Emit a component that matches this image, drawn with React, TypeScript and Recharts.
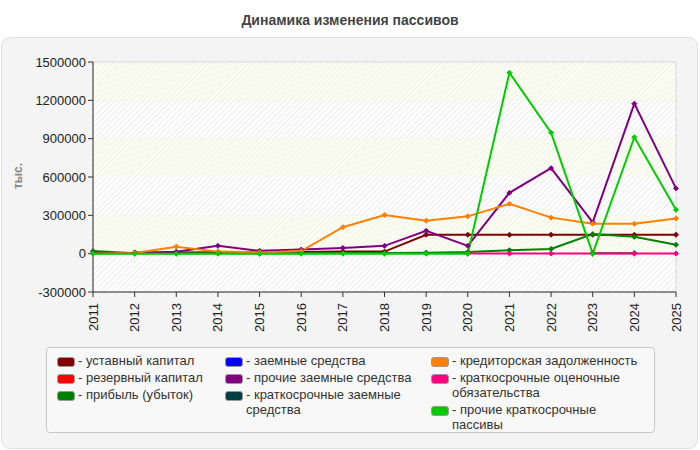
import { LineChart, Line, XAxis, YAxis, CartesianGrid, ReferenceArea } from "recharts";

const years = ["2011", "2012", "2013", "2014", "2015", "2016", "2017", "2018", "2019", "2020", "2021", "2022", "2023", "2024", "2025"];

// тыс. руб.
const ustavny = [null, 10000, 10000, 12000, 12000, 14000, 16000, 16000, 148000, 148000, 148000, 148000, 148000, 148000, 148000];
const rezervny = [null, null, null, null, null, null, null, null, null, null, null, null, null, null, null];
const pribyl = [20000, 3000, 3000, 3000, 3000, 3000, 5000, 5000, 8000, 13000, 27000, 37000, 153000, 132000, 69000];
const zaemnye = [null, null, null, null, null, null, null, null, null, null, null, null, null, null, null];
const prochieZaemnye = [5000, 5000, 15000, 61000, 22000, 32000, 45000, 61000, 179000, 61000, 476000, 669000, 245000, 1174000, 511000];
const kratkZaemnye = [null, null, null, null, null, null, null, null, null, null, null, null, 4000, 4000, null];
const kreditorskaya = [0, 5000, 55000, 16000, 10000, 20000, 207000, 303000, 258000, 292000, 390000, 282000, 234000, 234000, 276000];
const ocenochnye = [null, null, null, null, null, null, null, null, null, 1000, 1000, 1000, 1000, 1000, 1000];
const prochieKratk = [0, 0, 0, 0, 0, 0, 0, 0, 0, 0, 1416000, 947000, 0, 911000, 343000];

const yTicks = [-300000, 0, 300000, 600000, 900000, 1200000, 1500000];

const series = [
  { key: "ustavny", name: "уставный капитал", color: "#800000", values: ustavny },
  { key: "rezervny", name: "резервный капитал", color: "#ff0000", values: rezervny },
  { key: "pribyl", name: "прибыль (убыток)", color: "#008000", values: pribyl },
  { key: "zaemnye", name: "заемные средства", color: "#0000ff", values: zaemnye },
  { key: "prochieZaemnye", name: "прочие заемные средства", color: "#800080", values: prochieZaemnye },
  { key: "kratkZaemnye", name: "краткосрочные заемные средства", color: "#004040", values: kratkZaemnye },
  { key: "kreditorskaya", name: "кредиторская задолженность", color: "#ff8000", values: kreditorskaya },
  { key: "ocenochnye", name: "краткосрочные оценочные обязательства", color: "#ff0080", values: ocenochnye },
  { key: "prochieKratk", name: "прочие краткосрочные пассивы", color: "#00cc00", values: prochieKratk },
];

const data = years.map((year, i) => {
  const row: Record<string, string | number | null> = { year };
  series.forEach((s) => {
    row[s.key] = s.values[i];
  });
  return row;
});

const legendCols = [
  ["ustavny", "rezervny", "pribyl"],
  ["zaemnye", "prochieZaemnye", "kratkZaemnye"],
  ["kreditorskaya", "ocenochnye", "prochieKratk"],
];
const legendColX = [10, 178, 384];

const font = "'Liberation Sans', Arial, sans-serif";

const Diamond = (props: any) => {
  const { cx, cy, stroke, index, value } = props;
  if (cx == null || cy == null || value == null) return <g key={index} />;
  const r = 2.5;
  return (
    <path
      key={index}
      d={`M${cx},${cy - r}L${cx + r},${cy}L${cx},${cy + r}L${cx - r},${cy}Z`}
      fill={stroke}
      stroke={stroke}
      strokeWidth={1}
    />
  );
};

const YearTick = (props: any) => {
  const { x, y, payload } = props;
  return (
    <text
      x={x}
      y={y + 4}
      transform={`rotate(-90 ${x} ${y + 4})`}
      textAnchor="end"
      dominantBaseline="central"
      fontSize={13}
      fontFamily={font}
      fill="#222"
    >
      {payload.value}
    </text>
  );
};

const bands = [
  [-300000, 0, "url(#hatchGray)"],
  [0, 300000, "url(#hatchCream)"],
  [300000, 600000, "url(#hatchGray)"],
  [600000, 900000, "url(#hatchCream)"],
  [900000, 1200000, "url(#hatchGray)"],
  [1200000, 1500000, "url(#hatchCream)"],
] as const;

export default function App() {
  return (
    <div style={{ position: "relative", width: 700, height: 450, background: "#fff", fontFamily: font }}>
      <style>{`body{margin:0}`}</style>
      <svg width={0} height={0} style={{ position: "absolute" }}>
        <defs>
          <pattern id="hatchCream" width={4} height={4} patternUnits="userSpaceOnUse" patternTransform="rotate(45)">
            <rect width={4} height={4} fill="#fcfdf2" />
            <line x1={0} y1={0} x2={0} y2={4} stroke="#eff0e6" strokeWidth={1.5} />
          </pattern>
          <pattern id="hatchGray" width={4} height={4} patternUnits="userSpaceOnUse" patternTransform="rotate(45)">
            <rect width={4} height={4} fill="#fdfdfd" />
            <line x1={0} y1={0} x2={0} y2={4} stroke="#e9e9e9" strokeWidth={1.5} />
          </pattern>
        </defs>
      </svg>
      <div
        style={{
          position: "absolute",
          top: 12,
          left: 0,
          width: 700,
          textAlign: "center",
          fontSize: 14,
          fontWeight: "bold",
          color: "#444",
        }}
      >
        Динамика изменения пассивов
      </div>
      <div
        style={{
          position: "absolute",
          left: 1,
          top: 37,
          width: 695,
          height: 410,
          background: "#f4f4f4",
          border: "1px solid #e0e0e0",
          borderRadius: 9,
        }}
      />
      <div
        style={{
          position: "absolute",
          left: 18,
          top: 176,
          transform: "translate(-50%, -50%) rotate(-90deg)",
          fontSize: 12,
          fontWeight: "bold",
          color: "#888",
          whiteSpace: "nowrap",
        }}
      >
        тыс.
      </div>
      <div style={{ position: "absolute", left: 0, top: 0 }}>
        <LineChart width={700} height={340} data={data} margin={{ top: 62, right: 24, bottom: 3, left: 13 }}>
          {bands.map(([y1, y2, fill], i) => (
            <ReferenceArea key={i} y1={y1} y2={y2} fill={fill} fillOpacity={1} stroke="none" ifOverflow="hidden" />
          ))}
          <ReferenceArea y1={-300000} y2={1500000} fill="none" stroke="#dcdcdc" strokeWidth={1} />
          <CartesianGrid stroke="#dadada" strokeDasharray="5 4" />
          <XAxis
            dataKey="year"
            interval={0}
            height={45}
            tick={<YearTick />}
            tickLine={{ stroke: "#333" }}
            tickSize={5}
            axisLine={{ stroke: "#333" }}
          />
          <YAxis
            width={80}
            domain={[-300000, 1500000]}
            ticks={yTicks}
            interval={0}
            tick={{ fontSize: 13, fill: "#222", fontFamily: font }}
            tickLine={{ stroke: "#333" }}
            tickSize={5}
            axisLine={{ stroke: "#333" }}
            allowDataOverflow
          />
          {series.map((s) => (
            <Line
              key={s.key}
              type="linear"
              dataKey={s.key}
              name={s.name}
              stroke={s.color}
              strokeWidth={2}
              dot={<Diamond />}
              activeDot={false}
              isAnimationActive={false}
              connectNulls={false}
            />
          ))}
        </LineChart>
      </div>
      <div
        style={{
          position: "absolute",
          left: 46,
          top: 347,
          width: 607,
          height: 84,
          background: "#f8f8f8",
          border: "1px solid #c8c8c8",
          borderRadius: 4,
        }}
      >
        {legendCols.map((col, ci) => (
          <div key={ci} style={{ position: "absolute", left: legendColX[ci], top: 5 }}>
            {col.map((k) => {
              const s = series.find((x) => x.key === k)!;
              return (
                <div key={k} style={{ display: "flex", alignItems: "flex-start", marginBottom: 2 }}>
                  <div
                    style={{
                      width: 16,
                      height: 8,
                      marginTop: 4,
                      background: s.color,
                      border: "1px solid #999",
                      borderRadius: 3,
                      flexShrink: 0,
                    }}
                  />
                  <div style={{ fontSize: 13, lineHeight: "15px", color: "#333", marginLeft: 3, maxWidth: 195 }}>
                    - {s.name}
                  </div>
                </div>
              );
            })}
          </div>
        ))}
      </div>
    </div>
  );
}
